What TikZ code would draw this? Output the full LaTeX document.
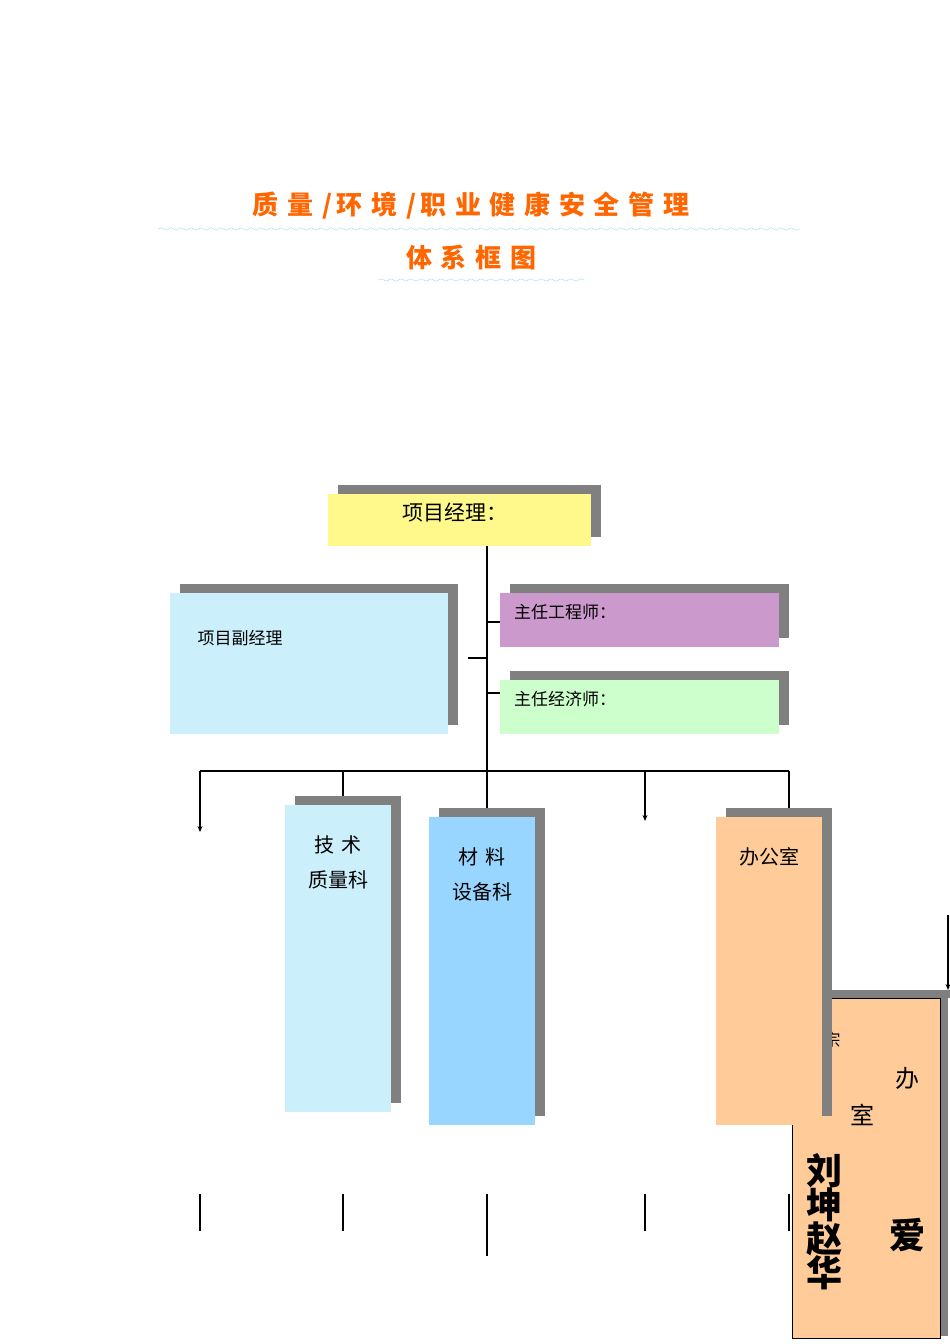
\documentclass[tikz,border=0pt]{standalone}
\usepackage{fontspec}
\setmainfont{Noto Sans CJK SC}
\usetikzlibrary{decorations.pathmorphing,arrows.meta}
\definecolor{shad}{HTML}{808080}
\definecolor{ttl}{HTML}{FF6600}
\definecolor{wave}{HTML}{A6D8F0}
\tikzset{x=1pt,y=-1pt,
 ln/.style={line width=1.4pt},
 arr/.style={ln,-{Stealth[length=6pt,width=5pt]}},
 lbl/.style={inner sep=0pt,font=\fontsize{17}{20}\selectfont}}
\newcommand{\shbox}[6]{% x1 y1 x2 y2 color name
 \fill[shad] (#1+10,#2-9) rectangle (#3+10,#4-9);
 \fill[#5] (#1,#2) rectangle (#3,#4);
 \coordinate (#6) at ({(#1+#3)/2},#2);}
\begin{document}
\begin{tikzpicture}
\useasboundingbox (0,0) rectangle (950,1344);
\fill[white] (0,0) rectangle (950,1344);
% title
\node[text=ttl,font=\bfseries\fontsize{26}{30}\selectfont] (t1) at (471,206) {质\,\,量\,\,/\,环\,\,境\,\,/\,职\,\,业\,\,健\,\,康\,\,安\,\,全\,\,管\,\,理};
\node[text=ttl,font=\bfseries\fontsize{26}{30}\selectfont] (t2) at (471,257) {体\,\,系\,\,框\,\,图};
\draw[wave,decorate,decoration={snake,amplitude=1.2pt,segment length=10pt}] (158,229) -- (800,229);
\draw[wave,decorate,decoration={snake,amplitude=1.2pt,segment length=10pt}] (378,280) -- (585,280);
% top boxes
\shbox{328}{494}{591}{546}{yellow!45}{pm}
\node[lbl,font=\fontsize{21}{24}\selectfont] (pmt) at (455,513) {项目经理：};
\shbox{170}{593}{448}{734}{cyan!20}{vpm}
\node[lbl] (vpmt) at (240,638) {项目副经理};
\shbox{500}{593}{779}{647}{violet!40}{ce}
\node[lbl,anchor=west] (cet) at (514,612) {主任工程师：};
\shbox{500}{680}{779}{734}{green!20}{cc}
\node[lbl,anchor=west] (cct) at (514,699) {主任经济师：};
% connectors
\coordinate (v0) at (487,546); \coordinate (v1) at (487,771);
\draw[ln] (v0) -- (v1);
\draw[ln] (487,622) -- (500,622);
\draw[ln] (487,693) -- (500,693);
\draw[ln] (468,658) -- (487,658);
\coordinate (hL) at (200,771); \coordinate (hR) at (789,771);
\draw[ln] (hL) -- (hR);
\coordinate (a1) at (200,832); \coordinate (a2) at (645,821);
\draw[arr] (hL) -- (a1);
\draw[arr] (645,771) -- (a2);
\draw[ln] (343,771) -- (343,797);
\draw[ln] (487,771) -- (487,817);
\draw[ln] (789,771) -- (789,808);
% bottom lines
\foreach \x in {200,343,645,789} \draw[ln] (\x,1194) -- (\x,1231);
\draw[ln] (487,1194) -- (487,1256);
% right edge arrow
\draw[arr] (948,915) -- (948,990);
% bottom-right box
\fill[shad] (828,990) rectangle (950,998);
\fill[shad] (940,998) rectangle (948,1336);
\filldraw[fill=orange!40,draw=black,line width=0.8pt] (792,998) rectangle (940,1338);
\node[lbl] (z1) at (832,1040) {宗};
\node[lbl,font=\fontsize{24}{28}\selectfont] (z2) at (907,1078) {办};
\node[lbl,font=\fontsize{24}{28}\selectfont] (z3) at (862,1115) {室};
\node[lbl,font=\bfseries\fontsize{36}{38}\selectfont,align=center] (z4) at (824,1222) {刘\\[-4pt]坤\\[-4pt]赵\\[-4pt]华};
\node[lbl,font=\bfseries\fontsize{36}{38}\selectfont] (z5) at (907,1235) {爱};
% department boxes
\shbox{285}{805}{391}{1112}{cyan!20}{d1}
\node[lbl,align=center,font=\fontsize{20}{35}\selectfont] (d1t) at (338,862) {技\,\,术\\质量科};
\shbox{429}{817}{535}{1125}{blue!40!cyan!40}{d2}
\node[lbl,align=center,font=\fontsize{20}{35}\selectfont] (d2t) at (482,874) {材\,\,料\\设备科};
\shbox{716}{817}{822}{1125}{orange!40}{d3}
\node[lbl,font=\fontsize{20}{24}\selectfont] (d3t) at (769,857) {办公室};
\end{tikzpicture}
\end{document}
